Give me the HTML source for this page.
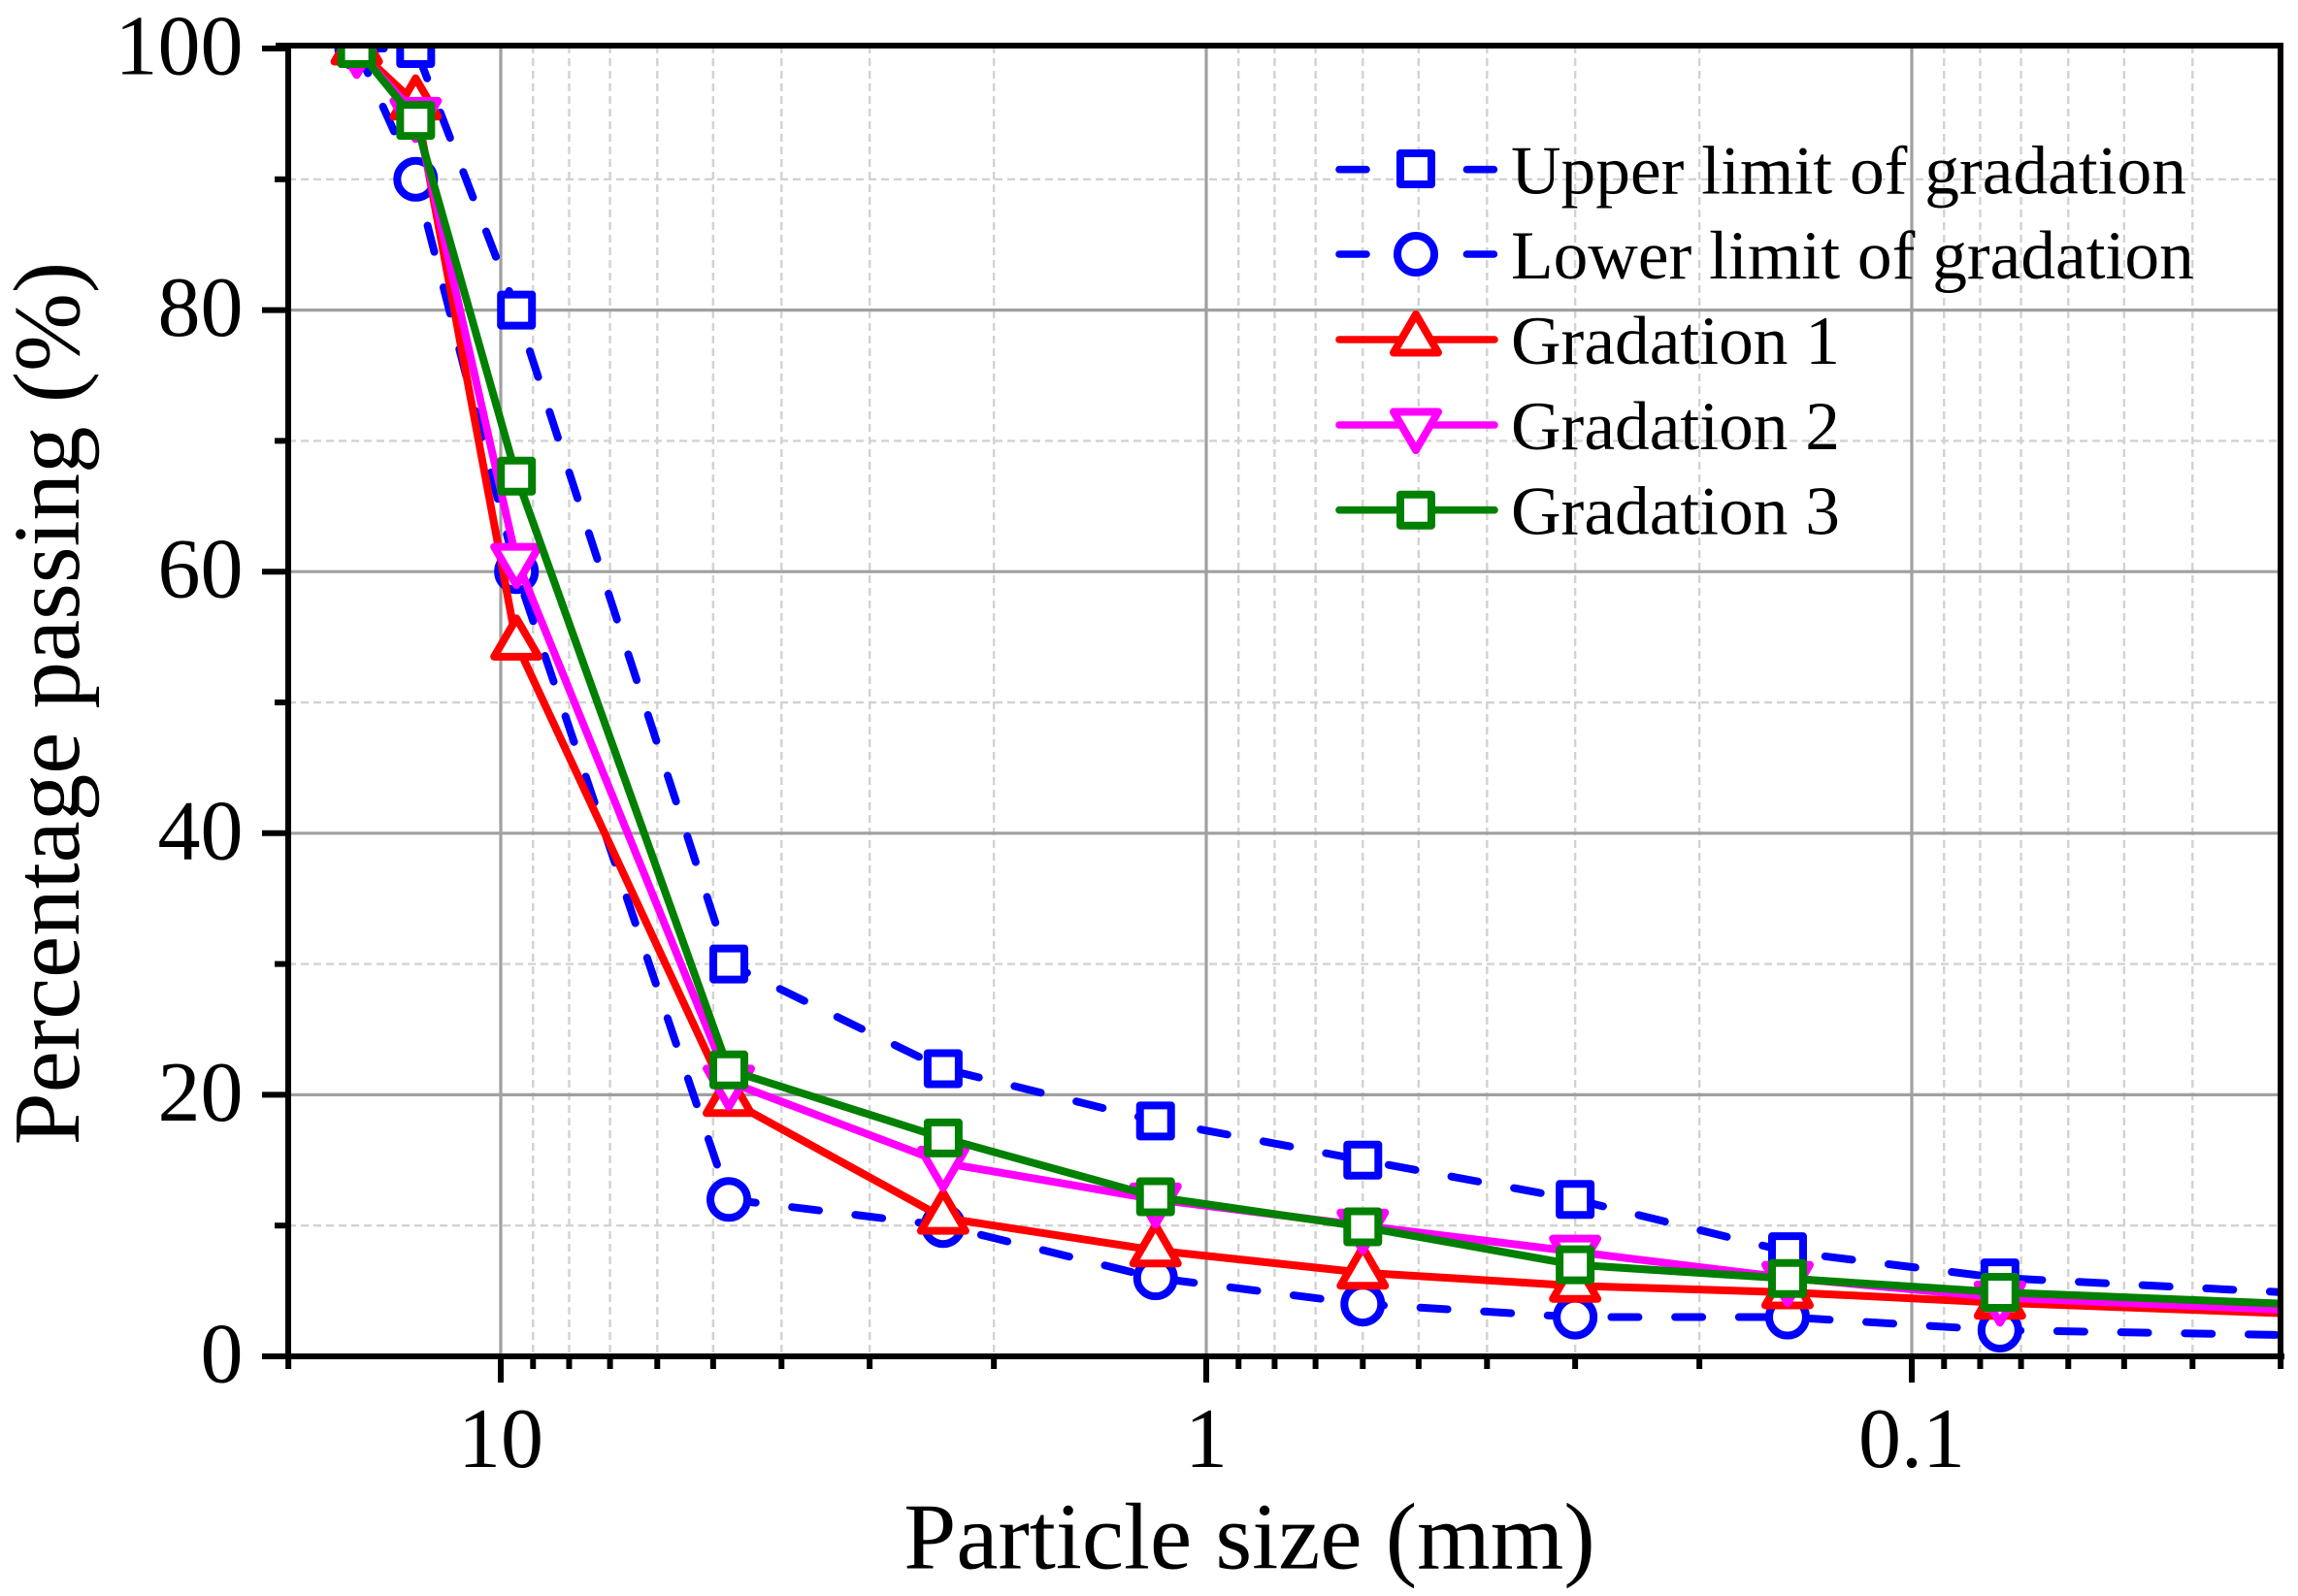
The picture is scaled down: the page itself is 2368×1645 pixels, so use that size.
<!DOCTYPE html>
<html lang="en">
<head>
<meta charset="utf-8">
<title>Particle size distribution</title>
<style>
html,body{margin:0;padding:0;background:#fff;}
svg{display:block;}
text{font-family:"Liberation Serif","Times New Roman",serif;fill:#000;}
</style>
</head>
<body>
<svg id="chart" xmlns="http://www.w3.org/2000/svg" width="2368" height="1645" viewBox="0 0 2368 1645">
  <defs>
    <clipPath id="plot-clip"><rect x="297" y="47" width="2053" height="1351"/></clipPath>
  </defs>
  <rect x="0" y="0" width="2368" height="1645" fill="#fff"/>
  <g id="grid"></g>
  <g id="series" clip-path="url(#plot-clip)"></g>
  <g id="legend">
    <g>
      <line x1="1380" y1="174.7" x2="1540" y2="174.7" stroke="#0000ff" stroke-width="7.6" stroke-linecap="round" stroke-dasharray="28 37.7"/>
      <rect x="1443" y="158" width="32" height="32" fill="#fff" stroke="#0000ff" stroke-width="8" stroke-linejoin="round"/>
      <text x="1557" y="199.5" font-size="71.4">Upper limit of gradation</text>
    </g>
    <g>
      <line x1="1380" y1="262" x2="1540" y2="262" stroke="#0000ff" stroke-width="7.6" stroke-linecap="round" stroke-dasharray="28 37.7"/>
      <circle cx="1459" cy="262" r="19" fill="#fff" stroke="#0000ff" stroke-width="8"/>
      <text x="1557" y="287" font-size="71.4">Lower limit of gradation</text>
    </g>
    <g>
      <line x1="1380" y1="350" x2="1540" y2="350" stroke="#ff0000" stroke-width="7.6" stroke-linecap="round"/>
      <polygon points="1459,324 1436,363.5 1482,363.5" fill="#fff" stroke="#ff0000" stroke-width="8" stroke-linejoin="round"/>
      <text x="1557" y="375" font-size="71.4">Gradation 1</text>
    </g>
    <g>
      <line x1="1380" y1="438" x2="1540" y2="438" stroke="#ff00ff" stroke-width="7.6" stroke-linecap="round"/>
      <polygon points="1459,464 1436,424.5 1482,424.5" fill="#fff" stroke="#ff00ff" stroke-width="8" stroke-linejoin="round"/>
      <text x="1557" y="463" font-size="71.4">Gradation 2</text>
    </g>
    <g>
      <line x1="1380" y1="525.7" x2="1540" y2="525.7" stroke="#008000" stroke-width="7.6" stroke-linecap="round"/>
      <rect x="1443" y="509.7" width="32" height="32" fill="#fff" stroke="#008000" stroke-width="8" stroke-linejoin="round"/>
      <text x="1557" y="550.7" font-size="71.4">Gradation 3</text>
    </g>
  </g>
  <g id="axes"></g>
  <text x="1287.5" y="1616.5" font-size="97.2" text-anchor="middle">Particle size (mm)</text>
  <text transform="translate(81 725) rotate(-90)" font-size="97" text-anchor="middle">Percentage passing (%)</text>
</svg>
<script>
// Sieve sizes in mm; the final 0.01 entry lies beyond the axis and is clipped by the plot area.
const sizes = [16, 13.2, 9.5, 4.75, 2.36, 1.18, 0.6, 0.3, 0.15, 0.075, 0.01];
const upperLimit = [100, 100, 80, 30, 22, 18, 15, 12, 8, 6, 3.6];
const lowerLimit = [100, 90, 60, 12, 10, 6, 4, 3, 3, 2, 1.2];
const gradation1 = [100, 95.8, 54.5, 19.6, 10.6, 8.1, 6.4, 5.4, 4.9, 4.1, 2.35];
const gradation2 = [99.9, 95, 60.9, 21, 14.8, 12, 10, 8, 6, 4.5, 2.45];
const gradation3 = [100, 94.5, 67.3, 21.9, 16.7, 12.2, 9.9, 7, 5.95, 4.9, 3];

const yMajorTicks = [0, 20, 40, 60, 80, 100];
const yMinorTicks = [10, 30, 50, 70, 90];
const xMajorTicks = [10, 1, 0.1];
const xMajorLabels = ["10", "1", "0.1"];
const xMinorTicks = [20, 9, 8, 7, 6, 5, 4, 3, 2, 0.9, 0.8, 0.7, 0.6, 0.5, 0.4, 0.3, 0.2, 0.09, 0.08, 0.07, 0.06, 0.05, 0.04, 0.03];

const SVG_NS = "http://www.w3.org/2000/svg";
function xScale(v) { return 516 + (1 - Math.log10(v)) * 727; }
function yScale(v) { return 1398 - 13.48 * v; }
function make(tag, attrs, parent) {
  const el = document.createElementNS(SVG_NS, tag);
  for (const k in attrs) el.setAttribute(k, attrs[k]);
  parent.appendChild(el);
  return el;
}

const grid = document.getElementById("grid");
const axes = document.getElementById("axes");
const seriesRoot = document.getElementById("series");

yMinorTicks.forEach(function (v) {
  const el = make("line", {x1: 297, x2: 2350, y1: yScale(v), y2: yScale(v), stroke: "#d2d2d2", "stroke-width": 2.4, "stroke-dasharray": "8 5"}, grid);
  
  
});
xMinorTicks.forEach(function (v) {
  const el = make("line", {x1: xScale(v), x2: xScale(v), y1: 47, y2: 1398, stroke: "#d2d2d2", "stroke-width": 2.4, "stroke-dasharray": "8 5"}, grid);
  
  
});
yMajorTicks.filter(function (v) { return v > 0 && v < 100; }).forEach(function (v) {
  const el = make("line", {x1: 297, x2: 2350, y1: yScale(v), y2: yScale(v), stroke: "#a0a0a0", "stroke-width": 3.2}, grid);
  
  
});
xMajorTicks.forEach(function (v) {
  const el = make("line", {x1: xScale(v), x2: xScale(v), y1: 47, y2: 1398, stroke: "#a0a0a0", "stroke-width": 3.2}, grid);
  
  
});

function drawMarker(kind, cx, cy, color, parent) {
  let el;
  const common = {fill: "#fff", stroke: color, "stroke-width": 8, "stroke-linejoin": "round"};
  if (kind === "square") {
    el = make("rect", Object.assign({x: cx - 16, y: cy - 16, width: 32, height: 32}, common), parent);
  } else if (kind === "circle") {
    el = make("circle", Object.assign({cx: cx, cy: cy, r: 19}, common), parent);
  } else if (kind === "up") {
    el = make("polygon", Object.assign({points: [cx, cy - 26, cx - 23, cy + 13.5, cx + 23, cy + 13.5].join(",")}, common), parent);
  } else {
    el = make("polygon", Object.assign({points: [cx, cy + 26, cx - 23, cy - 13.5, cx + 23, cy - 13.5].join(",")}, common), parent);
  }
  return el;
}

function drawSeries(values, color, kind, dashed, groupName, lineName, markerName) {
  const g = make("g", {}, seriesRoot);
  
  
  const pts = values.map(function (v, i) { return xScale(sizes[i]) + "," + yScale(v); }).join(" ");
  const attrs = {points: pts, fill: "none", stroke: color, "stroke-width": 8, "stroke-linejoin": "round"};
  if (dashed) { attrs["stroke-dasharray"] = "28 37.7"; attrs["stroke-linecap"] = "round"; }
  const line = make("polyline", attrs, g);
  
  
  values.forEach(function (v, i) {
    const m = drawMarker(kind, xScale(sizes[i]), yScale(v), color, g);
    
    
  });
}
drawSeries(upperLimit, "#0000ff", "square", true, "series-upper-limit", "line-upper-limit", "marker-upper-limit");
drawSeries(lowerLimit, "#0000ff", "circle", true, "series-lower-limit", "line-lower-limit", "marker-lower-limit");
drawSeries(gradation1, "#ff0000", "up", false, "series-gradation-1", "line-gradation-1", "marker-gradation-1");
drawSeries(gradation2, "#ff00ff", "down", false, "series-gradation-2", "line-gradation-2", "marker-gradation-2");
drawSeries(gradation3, "#008000", "square", false, "series-gradation-3", "line-gradation-3", "marker-gradation-3");

const axisLeft = make("line", {x1: 297, x2: 297, y1: 44, y2: 1401, stroke: "#000", "stroke-width": 6}, axes);


const axisBottom = make("line", {x1: 270, x2: 2354, y1: 1398, y2: 1398, stroke: "#000", "stroke-width": 6}, axes);


const axisTop = make("line", {x1: 284, x2: 2353, y1: 47, y2: 47, stroke: "#000", "stroke-width": 6}, axes);


const axisRight = make("line", {x1: 2350, x2: 2350, y1: 44, y2: 1401, stroke: "#000", "stroke-width": 6}, axes);



yMajorTicks.forEach(function (v) {
  const t = make("line", {x1: 270, x2: 297, y1: yScale(v), y2: yScale(v), stroke: "#000", "stroke-width": 6}, axes);
  
  
  const label = make("text", {x: 250.5, y: yScale(v) + 26.5, "font-size": 88, "text-anchor": "end"}, axes);
  
  
  label.textContent = String(v);
});
yMinorTicks.forEach(function (v) {
  const t = make("line", {x1: 283, x2: 297, y1: yScale(v), y2: yScale(v), stroke: "#000", "stroke-width": 6}, axes);
  
  
});
xMajorTicks.forEach(function (v, i) {
  const t = make("line", {x1: xScale(v), x2: xScale(v), y1: 1398, y2: 1425, stroke: "#000", "stroke-width": 6}, axes);
  
  
  const label = make("text", {x: xScale(v), y: 1512, "font-size": 88, "text-anchor": "middle"}, axes);
  
  
  label.textContent = xMajorLabels[i];
});
xMinorTicks.forEach(function (v) {
  const t = make("line", {x1: xScale(v), x2: xScale(v), y1: 1398, y2: 1411, stroke: "#000", "stroke-width": 6}, axes);
  
  
});
</script>
</body>
</html>
